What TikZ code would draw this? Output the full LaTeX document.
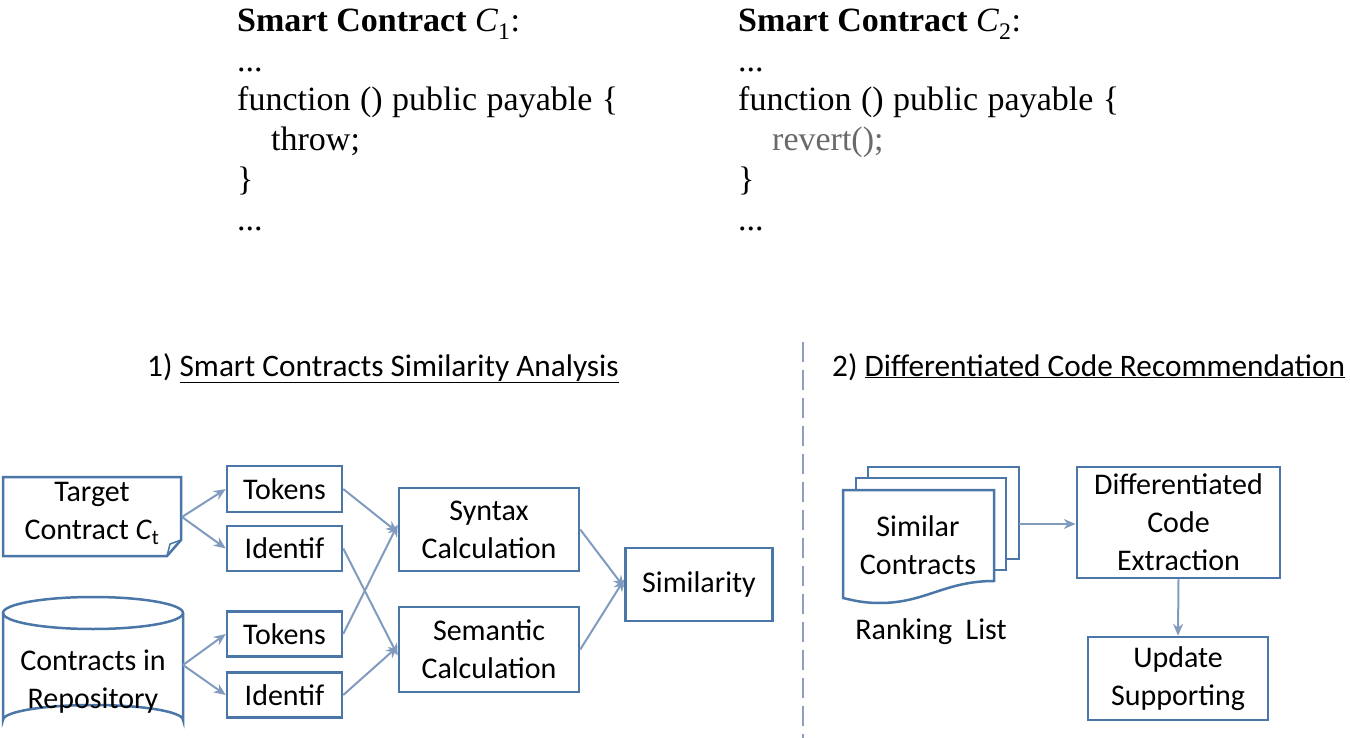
\documentclass[tikz,border=0pt]{standalone}
\usepackage{fontspec}
\setmainfont{Liberation Serif}
\newfontfamily\calib{Carlito}
\usetikzlibrary{arrows.meta}
\definecolor{boxblue}{RGB}{74,118,168}
\definecolor{arrowblue}{RGB}{128,155,190}
\definecolor{dashcol}{RGB}{140,160,190}
\definecolor{codegray}{RGB}{105,105,105}
\tikzset{
  box/.style={draw=boxblue, line width=2.5pt, inner sep=0pt, align=center,
    font=\calib\fontsize{30}{38}\selectfont},
  txt/.style={inner sep=0pt, align=center, font=\calib\fontsize{30}{38}\selectfont},
  title/.style={inner sep=0pt, anchor=base west, font=\calib\fontsize{31.3}{36}\selectfont},
  code/.style={inner sep=0pt, anchor=base west, font=\fontsize{34}{40}\selectfont},
  conn/.style={draw=arrowblue, line width=2pt, -{Stealth[length=12pt,width=10pt]}},
  shp/.style={draw=boxblue, line width=2.5pt},
}
\begin{document}
\begin{tikzpicture}[x=1pt,y=-1pt]
\useasboundingbox (0,0) rectangle (1350,738);

% ---- code listings
\node[code] (c1a) at (237,32) {\textbf{Smart Contract} \textit{C}\textsubscript{1}:};
\node[code] (c1b) at (237,72) {...};
\node[code] (c1c) at (237,111) {\spaceskip=9.5pt function () public payable \{};
\node[code] (c1d) at (271,151) {throw;};
\node[code] (c1e) at (237,191) {\}};
\node[code] (c1f) at (237,231) {...};

\node[code] (c2a) at (738,32) {\textbf{Smart Contract} \textit{C}\textsubscript{2}:};
\node[code] (c2b) at (738,72) {...};
\node[code] (c2c) at (738,111) {\spaceskip=9.5pt function () public payable \{};
\node[code, text=codegray] (c2d) at (772,151) {revert();};
\node[code] (c2e) at (738,191) {\}};
\node[code] (c2f) at (738,231) {...};

% ---- titles
\node[title] (t1) at (147,376) {1) \underline{Smart Contracts Similarity Analysis}};
\node[title] (t2) at (832,376) {2) \underline{Differentiated Code Recommendation}};

% ---- divider
\coordinate (dtop) at (803,342);
\coordinate (dbot) at (803,738);
\draw[dashcol, line width=2.2pt, dash pattern=on 20pt off 8pt] (dtop) -- (dbot);

% ---- target contract (document with folded corner)
\node[txt, minimum width=178pt, minimum height=79pt] (T) at (92,513.5)
  {Target\\Contract \textit{C}\textsubscript{t}};
\coordinate (Tout) at (182,517);
\draw[shp, line join=miter] (3,477) -- (181,477) -- (181,540) -- (167,556) -- (3,556) -- cycle;
\draw[draw=boxblue, line width=1.5pt] (167,556) -- (170,544) -- (181,540);

% ---- repository cylinder
\draw[shp] (3,613) -- (3,720) arc[start angle=180, end angle=360, x radius=90, y radius=15]
  -- (183,613);
\draw[shp] (93,613) ellipse[x radius=90, y radius=16];
\node[txt] (R) at (93,682) {Contracts in\\Repository};
\coordinate (Rout) at (183,665);

% ---- feature boxes
\node[box, minimum width=115pt, minimum height=46pt] (tok1) at (284.5,489) {Tokens};
\node[box, minimum width=115pt, minimum height=45pt] (id1) at (284.5,548.5) {Identif};
\node[box, minimum width=115pt, minimum height=45pt] (tok2) at (284.5,634) {Tokens};
\node[box, minimum width=115pt, minimum height=45pt] (id2) at (284.5,695) {Identif};

\node[box, minimum width=180pt, minimum height=83pt] (syn) at (489,529.5) {Syntax\\Calculation};
\node[box, minimum width=180pt, minimum height=85pt] (sem) at (489,649.5) {Semantic\\Calculation};
\node[box, minimum width=147pt, minimum height=73pt] (sim) at (699,584.5) {Similarity};

% ---- connectors left
\draw[conn] (Tout) -- (tok1.west);
\draw[conn] (Tout) -- (id1.west);
\draw[conn] (Rout) -- (tok2.west);
\draw[conn] (Rout) -- (id2.west);
\draw[conn] (tok1.east) -- ([yshift=-3pt]syn.west);
\draw[conn] (tok2.east) -- ([yshift=5pt]syn.west);
\draw[conn] (id1.east) -- ([yshift=-6pt]sem.west);
\draw[conn] (id2.east) -- ([yshift=3pt]sem.west);
\draw[conn] (syn.east) -- ([yshift=-3pt]sim.west);
\draw[conn] (sem.east) -- ([yshift=5pt]sim.west);

% ---- ranking list (stacked documents)
\draw[shp, fill=white] (868,467) rectangle (1019,559);
\draw[shp, fill=white] (856,478) rectangle (1006,570);
\draw[shp, fill=white] (843,490) -- (994,490) -- (994,581)
  .. controls (945,581) and (925,603) .. (880,603)
  .. controls (862,603) and (852,600) .. (843,598) -- cycle;
\node[txt] (S) at (918,545) {Similar\\Contracts};
\node[txt] (rl) at (931,632) {Ranking\ \ List};
\coordinate (Sout) at (1019,524);

% ---- recommendation boxes
\node[box, minimum width=203pt, minimum height=111pt] (diff) at (1178.5,522.5)
  {Differentiated\\Code\\Extraction};
\node[box, minimum width=180pt, minimum height=83pt] (upd) at (1178,678.5)
  {Update\\Supporting};

\draw[conn] (Sout) -- (Sout -| diff.west);
\draw[conn] (diff.south) -- (upd.north);
\end{tikzpicture}
\end{document}
